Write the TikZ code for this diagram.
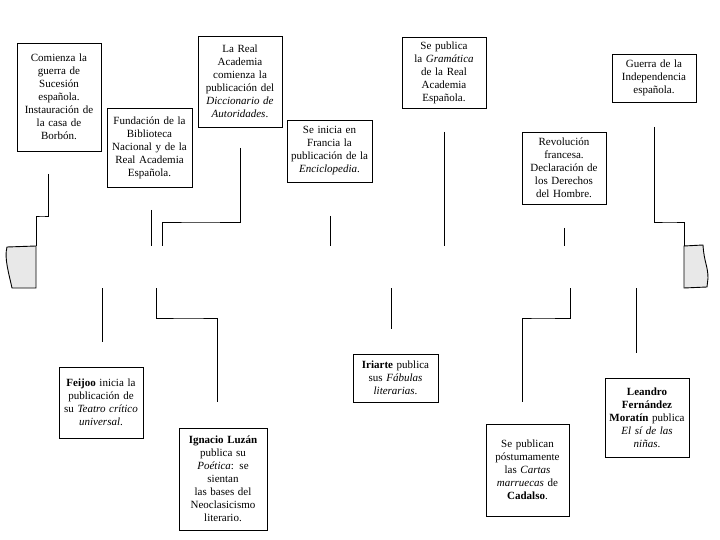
\documentclass[tikz,border=0pt]{standalone}
\usepackage{fontspec}
\setmainfont{Liberation Serif}

\begin{document}
\begin{tikzpicture}[x=1pt, y=-1pt]
      \tikzset{
        event/.style={
          draw=black, line width=0.9pt, minimum width=84pt, text width=82pt,
          fill=white, inner sep=0pt, align=center,
          font=\fontsize{11}{13}\selectfont
        },
        link/.style={draw=black, line width=0.9pt},
        endcap/.style={draw=black, line width=0.9pt, fill=gray!18}
      }
      \useasboundingbox (0,0) rectangle (720,540);
      \node[event, minimum height=108pt] (e1) at (59,97)
        {Comienza la\\ guerra de\\ Sucesión\\ española.\\ Instauración de\\ la casa de\\ Borbón.};
      \node[event, minimum width=85pt, minimum height=79pt] (e2) at (149.5,147.5)
        {Fundación de la\\ Biblioteca\\ Nacional y de la\\ Real Academia\\ Española.};
      \node[event, minimum height=91pt] (e3) at (240,81.5)
        {La Real\\ Academia\\ comienza la\\ publicación del\\ \textit{Diccionario de}\\ \textit{Autoridades}.};
      \node[event, minimum width=85pt, minimum height=62pt] (e4) at (329.5,151)
        {Se inicia en\\ Francia la\\ publicación de la\\ \textit{Enciclopedia}.};
      \node[event, minimum height=71pt] (e5) at (444,72.5)
        {Se publica\\ la \textit{Gramática}\\ de la Real\\ Academia\\ Española.};
      \node[event, minimum height=48pt] (e6) at (654,78)
        {Guerra de la\\ Independencia\\ española.};
      \node[event, minimum height=72pt] (e7) at (564,168)
        {Revolución\\ francesa.\\ Declaración de\\ los Derechos\\ del Hombre.};
      \node[event, minimum height=71pt] (e8) at (101,402.5)
        {\textbf{Feijoo} inicia la\\ publicación de\\ su \textit{Teatro crítico}\\ \textit{universal}.};
      \node[event, minimum width=88pt, minimum height=102pt] (e9) at (223,479)
        {\textbf{Ignacio Luzán}\\ publica su\\ \textit{Poética}: se\\ sientan\\ las bases del\\ Neoclasicismo\\ literario.};
      \node[event, minimum width=85pt, minimum height=48pt] (e10) at (395.5,378)
        {\textbf{Iriarte} publica\\ sus \textit{Fábulas}\\ \textit{literarias}.};
      \node[event, minimum width=83pt, minimum height=92pt] (e11) at (527.5,470)
        {Se publican\\ póstumamente\\ las \textit{Cartas}\\ \textit{marruecas} de\\ \textbf{Cadalso}.};
      \node[event, minimum height=79pt] (e12) at (647,417.5)
        {\textbf{Leandro}\\ \textbf{Fernández}\\ \textbf{Moratín} publica\\ \textit{El sí de las}\\ \textit{niñas}.};

      \filldraw[endcap] (36,246) -- (7,247) .. controls (4,258) and (9,274) .. (12,288)
        -- (36,288) -- cycle;
      \filldraw[endcap] (684,246) -- (703,245) .. controls (704,262) and (708,266) .. (708,278)
        -- (707,287) -- (684,288) -- cycle;

      \coordinate (p1) at (48,174);   \coordinate (q1) at (36,246);
      \coordinate (p2) at (151,210);  \coordinate (q2) at (151,246);
      \coordinate (p3) at (240,148);  \coordinate (q3) at (162,246);
      \coordinate (p4) at (330,216);  \coordinate (q4) at (330,246);
      \coordinate (p5) at (444,132);  \coordinate (q5) at (444,246);
      \coordinate (p6) at (654,127);  \coordinate (q6) at (684,246);
      \coordinate (p7) at (564,228);  \coordinate (q7) at (564,246);
      \coordinate (p8) at (102,342);  \coordinate (q8) at (102,288);
      \coordinate (p9) at (217,402);  \coordinate (q9) at (156,288);
      \coordinate (p10) at (391,329); \coordinate (q10) at (391,288);
      \coordinate (p11) at (522,402); \coordinate (q11) at (570,288);
      \coordinate (p12) at (636,353); \coordinate (q12) at (636,288);

      \draw[link] (p1) |- (42,216) -| (q1);
      \draw[link] (p2) -- (q2);
      \draw[link] (p3) |- (200,222) -| (q3);
      \draw[link] (p4) -- (q4);
      \draw[link] (p5) -- (q5);
      \draw[link] (p6) |- (670,222) -| (q6);
      \draw[link] (p7) -- (q7);
      \draw[link] (q8) -- (p8);
      \draw[link] (q9) |- (190,318) -| (p9);
      \draw[link] (q10) -- (p10);
      \draw[link] (q11) |- (540,318) -| (p11);
      \draw[link] (q12) -- (p12);
    \end{tikzpicture}
\end{document}
